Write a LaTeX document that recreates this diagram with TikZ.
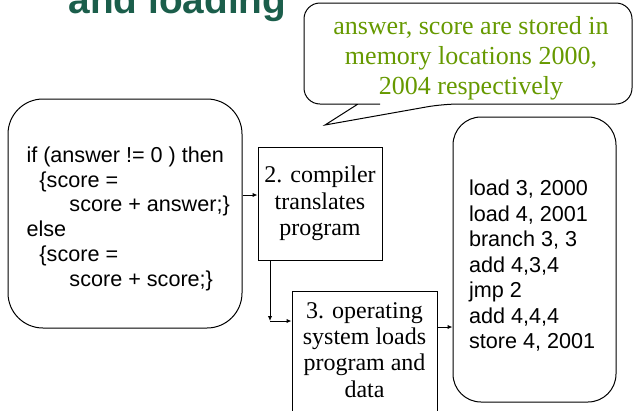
\documentclass[tikz,border=0pt]{standalone}
\usepackage{fontspec}
\setmainfont{Liberation Serif}
\newfontfamily\arialfont{Liberation Sans}
\usetikzlibrary{arrows.meta}
\definecolor{titlegreen}{HTML}{1B5E4B}
\definecolor{notegreen}{HTML}{669900}
\begin{document}
\begin{tikzpicture}[x=1pt,y=-1pt,line width=1pt,
  arr/.style={-{Latex[length=5pt,width=4.5pt]}},
  plainbox/.style={draw,inner sep=0pt},
  txt/.style={inner sep=0pt}]
\useasboundingbox (0,0) rectangle (634,410);
\clip (0,0) rectangle (634,410);
% title
\node[txt,anchor=base west,font=\arialfont\bfseries\fontsize{38.8}{40}\selectfont,text=titlegreen] (title) at (68,13) {and loading};
% speech bubble
\draw[rounded corners=16pt] (380,104) -- (304,104) -- (304,3) -- (632,3) -- (632,104) -- (443,104) [sharp corners] -- (325,125) -- (358,104) -- cycle;
\node[txt,anchor=north,align=center,text=notegreen,font=\fontsize{26}{30}\selectfont] (note) at (471,15.5) {answer, score are stored in\\memory locations 2000,\\2004 respectively};
% source box
\node[plainbox,rounded corners=35pt,minimum width=234pt,minimum height=229pt] (src) at (125,213.5) {};
\node[txt,anchor=north west,align=left,font=\arialfont\fontsize{21.6}{24.9}\selectfont] (srctext) at (26,146) {if (answer != 0 ) then\\\hspace*{13pt}\{score =\\\hspace*{43pt}score + answer;\}\\else\\\hspace*{13pt}\{score =\\\hspace*{43pt}score + score;\}};
% compiler box
\node[plainbox,minimum width=124pt,minimum height=113pt,align=center,font=\fontsize{24}{26.5}\selectfont] (compile) at (320,203.5) {2. compiler\\translates\\program};
% OS box
\node[plainbox,minimum width=145pt,minimum height=140pt] (osload) at (364.5,361) {};
\node[txt,anchor=north,align=center,font=\fontsize{24}{26.4}\selectfont] (ostext) at (364.5,301.8) {3. operating\\system loads\\program and\\data};
% object code box
\node[plainbox,rounded corners=28pt,minimum width=163pt,minimum height=285pt] (obj) at (534.5,259.5) {};
\node[txt,anchor=north west,align=left,font=\arialfont\fontsize{21.6}{25.5}\selectfont] (objtext) at (468.5,179.5) {load 3, 2000\\load 4, 2001\\branch 3, 3\\add 4,3,4\\jmp 2\\add 4,4,4\\store 4, 2001};
% connectors
\coordinate (elbow) at (270,321);
\draw[arr] (src.east |- 0,195) -- (compile.west |- 0,195);
\draw[arr] (compile.south -| elbow) -- (elbow);
\draw[arr] (elbow) -- (osload.west |- elbow);
\draw[arr] (osload.east |- 0,327) -- (obj.west |- 0,327);
\end{tikzpicture}
\end{document}
